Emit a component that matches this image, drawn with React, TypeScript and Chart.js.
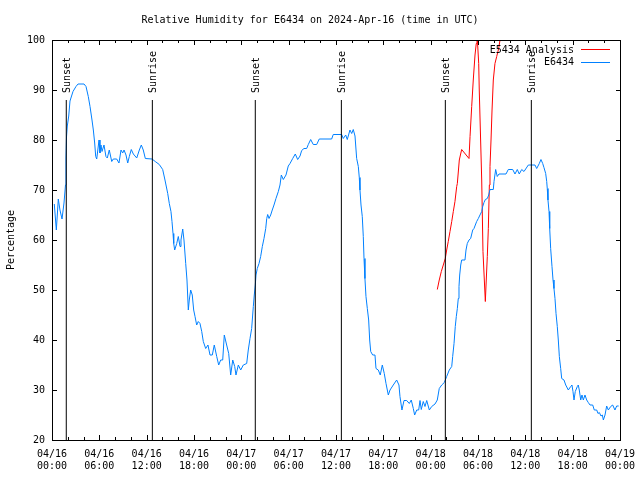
import React, { useEffect, useRef } from "react";
import { Chart, registerables } from "chart.js";

Chart.register(...registerables);

// Hours since 2024-04-16 00:00 UTC
const blueHours = [
  0.29, 0.55, 0.8, 1.01, 1.27, 1.52, 1.71, 1.77, 1.84, 1.94, 2.12, 2.28, 2.66, 3.04, 3.3, 4.06, 4.31, 4.6, 4.82, 5.07,
  5.24, 5.41, 5.54, 5.67, 5.96, 6.08, 6.21, 6.34, 6.59, 6.84, 7.01, 7.26, 7.57, 7.77, 8.2, 8.49, 8.75, 8.96, 9.13, 9.38,
  9.6, 9.8, 10.05, 10.31, 10.74, 11.07, 11.32, 11.57, 11.83, 12.68, 13.09, 13.6, 14.03, 14.32, 14.67, 14.87, 15.08, 15.21, 15.34, 15.43,
  15.55, 15.81, 16.01, 16.23, 16.35, 16.57, 16.73, 16.95, 17.11, 17.28, 17.4, 17.58, 17.78, 17.96, 18.13, 18.34, 18.54, 18.76, 18.98, 19.18,
  19.48, 19.77, 20.03, 20.32, 20.57, 20.88, 21.13, 21.38, 21.64, 21.84, 22.14, 22.4, 22.65, 22.91, 23.16, 23.32, 23.62, 23.92, 24.25, 24.68,
  24.88, 25.1, 25.31, 25.52, 25.64, 25.77, 25.86, 26.02, 26.24, 26.45, 26.66, 26.87, 27.09, 27.22, 27.34, 27.51, 27.72, 27.92, 28.14, 28.39,
  28.69, 28.9, 29.07, 29.32, 29.66, 29.95, 30.17, 30.51, 30.84, 31.14, 31.44, 31.65, 31.94, 32.28, 32.49, 32.79, 33.12, 33.55, 33.88, 35.45,
  35.65, 36.72, 36.92, 37.23, 37.43, 37.77, 37.99, 38.19, 38.41, 38.62, 38.83, 38.95, 39.04, 39.17, 39.33, 39.46, 39.55, 39.67, 39.8, 39.97,
  40.14, 40.27, 40.4, 40.65, 40.94, 41.07, 41.36, 41.61, 41.87, 42.12, 42.34, 42.63, 42.85, 43.26, 43.69, 43.98, 44.11, 44.36, 44.62, 44.96,
  45.29, 45.54, 45.8, 45.97, 46.23, 46.48, 46.65, 46.81, 47.06, 47.28, 47.5, 47.83, 48.13, 48.55, 48.84, 49.09, 49.4, 49.73, 50.03, 50.36,
  50.67, 50.79, 50.96, 51.12, 51.25, 51.38, 51.5, 51.59, 51.68, 51.81, 51.93, 52.35, 52.48, 52.64, 52.86, 53.07, 53.33, 53.49, 53.66, 53.83,
  54.04, 54.25, 54.47, 54.6, 54.76, 54.93, 55.18, 55.36, 55.52, 55.94, 56.03, 56.24, 56.44, 56.66, 57.55, 57.84, 58.4, 58.69, 58.98, 59.23,
  59.54, 59.83, 60.38, 61.22, 61.44, 61.77, 61.98, 62.2, 62.36, 62.58, 62.71, 62.78, 62.87, 63.0, 63.09, 63.21, 63.38, 63.51, 63.63, 63.76,
  63.89, 64.05, 64.18, 64.31, 64.48, 64.61, 64.9, 65.12, 65.45, 65.75, 65.91, 66.04, 66.17, 66.33, 66.59, 66.71, 66.84, 67.02, 67.18, 67.35,
  67.56, 67.78, 67.98, 68.2, 68.54, 68.74, 69.05, 69.21, 69.38, 69.59, 69.76, 69.89, 70.1, 70.31, 70.52, 70.82, 71.07, 71.36, 71.58, 71.83,
];

const blueValues = [
  67.2, 62, 68.2, 66, 64.2, 67.4, 71, 76.4, 80.6, 82.8, 84.8, 87.8, 89.7, 90.7, 91.2, 91.2, 90.7, 88.7, 86.7, 84,
  82, 79.4, 76.7, 76.2, 80, 77.4, 79, 77.7, 79, 76.7, 76.4, 78, 75.7, 76.2, 76.2, 75.4, 78, 77.4, 78, 77,
  75.4, 76.7, 78.1, 77.2, 76.4, 78, 79, 78, 76.3, 76.2, 75.7, 75.1, 74.1, 72, 69.3, 67.3, 65.7, 63.7, 61.3, 59.3,
  58, 59.3, 60.7, 58.7, 60, 62.2, 60, 55.3, 52, 46, 48, 50, 49, 46, 44.7, 43, 43.7, 43.3, 41.7, 39.7,
  38.3, 39, 37, 37, 39, 36.7, 35, 36, 36, 41, 39, 37.3, 33, 36, 34.7, 33, 35, 34, 35, 35.3,
  38, 40.3, 42.3, 46.7, 49, 51, 53, 54.3, 55.3, 56.7, 58.7, 60.3, 62.3, 64.3, 65.1, 64.3, 65, 66, 67, 68.3,
  69.7, 71, 73, 72.1, 73, 74.8, 75.3, 76.3, 77.2, 76.1, 76.8, 77.9, 78.3, 78.3, 79.1, 80.1, 79.1, 79.1, 80.2, 80.2,
  81.1, 81.1, 80.3, 81, 80.1, 82, 81.3, 82.1, 80.8, 76.3, 74.7, 72.5, 70, 67, 64.7, 60.7, 56.3, 52.3, 48.7, 46.3,
  44, 40, 37.7, 37, 37, 34.3, 34, 33, 35, 33.3, 31.3, 29, 30, 31, 32, 31, 28.7, 26, 27.9, 27.9,
  27.3, 28, 26.3, 25, 26, 26, 27.9, 26.1, 27.7, 26.7, 27.9, 26, 26.7, 27.2, 28, 30.3, 31, 31.5, 32.7, 34,
  34.7, 36.7, 39.3, 42.7, 44.7, 46.3, 48.3, 50.7, 53, 55, 56, 56, 58, 59.3, 60, 60.3, 62, 62.3, 63, 63.7,
  64.3, 65, 65.7, 66.7, 67.5, 68.1, 68.3, 69, 70.1, 70.1, 71.7, 74.1, 72.7, 73.2, 73.2, 74.1, 74.1, 73.2, 74.1, 73.2,
  74.1, 73.7, 75, 75, 74.3, 75.3, 76.1, 75.3, 74.5, 73.3, 71.7, 70.3, 68, 65.7, 62.3, 58.3, 54.7, 52, 50.3, 48.3,
  45.3, 42.7, 40, 36.7, 34.3, 32.3, 32, 31, 30, 30.7, 31, 29.7, 28, 29.7, 30.7, 31, 30, 28, 29, 28,
  29, 28, 27.5, 27, 27, 26, 26, 25.3, 25.5, 24.8, 25, 24, 25, 26.8, 26, 26.7, 27, 26, 26.8, 26.8,
];

const redHours = [
  48.84, 49.09, 49.35, 49.6, 49.85, 50.03, 50.23, 50.45, 50.67, 50.87, 51.08, 51.3, 51.38, 51.63, 51.93, 52.86, 52.99, 53.2, 53.4, 53.62,
  53.78, 53.87, 54.09, 54.16, 54.47, 54.63, 54.93, 55.02, 55.18, 55.31, 55.44, 55.52, 55.65, 55.78, 55.94, 56.15, 56.37, 56.62, 56.79, 57.04,
];
const redValues = [
  50.1, 52, 53.7, 55, 56.3, 58, 59.7, 61.7, 63.7, 65.7, 67.7, 70.7, 71.3, 76, 78.1, 76.3, 80.7, 86.7, 92, 97,
  99.3, 101.5, 95.3, 90, 72, 57.7, 47.7, 51, 56.7, 62.3, 71, 74.7, 80, 86, 92, 95.3, 96.7, 98.3, 100, 102,
];

const markerHours = [1.81, 12.72, 25.77, 36.68, 49.86, 60.76];
const markerLabels = ["Sunset", "Sunrise", "Sunset", "Sunrise", "Sunset", "Sunrise"];
const markerTop = 88;

const xTickLabels = [
  ["04/16", "00:00"], ["04/16", "06:00"], ["04/16", "12:00"], ["04/16", "18:00"],
  ["04/17", "00:00"], ["04/17", "06:00"], ["04/17", "12:00"], ["04/17", "18:00"],
  ["04/18", "00:00"], ["04/18", "06:00"], ["04/18", "12:00"], ["04/18", "18:00"],
  ["04/19", "00:00"],
];

const titleText = "Relative Humidity for E6434 on 2024-Apr-16 (time in UTC)";
const seriesNames = ["E5434 Analysis", "E6434"];
const seriesColors = ["#ff0000", "#0080ff"];

const FONT = "'DejaVu Sans Mono', monospace";

const gnuplotPlugin = {
  id: "gnuplotDecor",
  afterDatasetsDraw(chart: any) {
    const ctx = chart.ctx;
    const { left, right, top, bottom } = chart.chartArea;
    const xs = chart.scales.x;
    const ys = chart.scales.y;
    ctx.save();
    // marker labels
    ctx.fillStyle = "#000";
    ctx.font = `10px ${FONT}`;
    markerHours.forEach((h, i) => {
      const px = xs.getPixelForValue(h);
      const py = ys.getPixelForValue(markerTop) - 7;
      ctx.save();
      ctx.translate(px + 1.5, py);
      ctx.rotate(-Math.PI / 2);
      ctx.textAlign = "left";
      ctx.textBaseline = "middle";
      ctx.fillText(markerLabels[i], 0, 0);
      ctx.restore();
    });
    // border
    ctx.strokeStyle = "#000";
    ctx.lineWidth = 1;
    ctx.strokeRect(left + 0.5, top + 0.5, right - left, bottom - top);
    // ticks (inward, mirrored)
    ctx.beginPath();
    for (let h = 0; h <= 72; h += 2) {
      const px = Math.round(xs.getPixelForValue(h)) + 0.5;
      const len = h % 6 === 0 ? 5 : 3;
      ctx.moveTo(px, bottom);
      ctx.lineTo(px, bottom - len);
      ctx.moveTo(px, top);
      ctx.lineTo(px, top + len);
    }
    for (let v = 20; v <= 100; v += 10) {
      const py = Math.round(ys.getPixelForValue(v)) + 0.5;
      ctx.moveTo(left, py);
      ctx.lineTo(left + 5, py);
      ctx.moveTo(right + 1, py);
      ctx.lineTo(right - 4, py);
    }
    ctx.stroke();
    // legend
    ctx.font = `10px ${FONT}`;
    ctx.textAlign = "right";
    ctx.textBaseline = "middle";
    const legendY = [50, 62.5];
    seriesNames.forEach((name, i) => {
      ctx.fillStyle = "#000";
      ctx.fillText(name, 574, legendY[i]);
      ctx.strokeStyle = seriesColors[i];
      ctx.beginPath();
      ctx.moveTo(581, Math.round(legendY[i]) - 0.5);
      ctx.lineTo(610, Math.round(legendY[i]) - 0.5);
      ctx.stroke();
    });
    ctx.restore();
  },
};

export default function App() {
  const canvasRef = useRef<HTMLCanvasElement | null>(null);

  useEffect(() => {
    const canvas = canvasRef.current;
    if (!canvas) return;
    const blueData = blueHours.map((h, i) => ({ x: h, y: blueValues[i] }));
    const redData = redHours.map((h, i) => ({ x: h, y: redValues[i] }));
    const markerSets = markerHours.map((h) => ({
      data: [
        { x: h, y: 20 },
        { x: h, y: markerTop },
      ],
      borderColor: "#000000",
      borderWidth: 1,
      pointRadius: 0,
      order: 0,
    }));
    const chart = new Chart(canvas, {
      type: "line",
      data: {
        datasets: [
          ...markerSets,
          {
            label: seriesNames[1],
            data: blueData,
            borderColor: seriesColors[1],
            borderWidth: 1,
            pointRadius: 0,
            tension: 0,
            order: 1,
          },
          {
            label: seriesNames[0],
            data: redData,
            borderColor: seriesColors[0],
            borderWidth: 1,
            pointRadius: 0,
            tension: 0,
            order: 2,
          },
        ],
      },
      options: {
        responsive: false,
        animation: false,
        devicePixelRatio: 1,
        layout: { padding: { left: 0, right: 20, top: 0, bottom: 0 } },
        plugins: {
          legend: { display: false },
          tooltip: { enabled: false },
          title: {
            display: true,
            text: titleText,
            color: "#000",
            font: { family: FONT, size: 10, weight: "normal", lineHeight: 1.2 },
            padding: { top: 14, bottom: 14 },
          },
        },
        scales: {
          x: {
            type: "linear",
            min: 0,
            max: 72,
            grid: { display: false, drawTicks: false, tickLength: 0 },
            border: { display: false },
            afterBuildTicks: (scale: any) => {
              scale.ticks = xTickLabels.map((_, i) => ({ value: i * 6 }));
            },
            afterFit: (scale: any) => {
              scale.height = 40;
              scale.paddingLeft = 0;
              scale.paddingRight = 0;
            },
            ticks: {
              autoSkip: false,
              maxRotation: 0,
              minRotation: 0,
              padding: 8,
              color: "#000",
              font: { family: FONT, size: 10, lineHeight: 1.25 },
              callback: (value: any) => xTickLabels[Math.round(Number(value) / 6)],
            },
          },
          y: {
            type: "linear",
            min: 20,
            max: 100,
            grid: { display: false, drawTicks: false, tickLength: 0 },
            border: { display: false },
            afterFit: (scale: any) => {
              scale.width = 52;
              scale.paddingTop = 0;
              scale.paddingBottom = 0;
            },
            ticks: {
              stepSize: 10,
              padding: 7,
              color: "#000",
              font: { family: FONT, size: 10 },
            },
            title: {
              display: true,
              text: "Percentage",
              color: "#000",
              font: { family: FONT, size: 10, lineHeight: 1.2 },
              padding: { top: 5, bottom: 0 },
            },
          },
        },
      },
      plugins: [gnuplotPlugin],
    } as any);
    return () => chart.destroy();
  }, []);

  return (
    <div style={{ position: "fixed", left: 0, top: 0, width: 640, height: 480, background: "#fff" }}>
      <canvas ref={canvasRef} width={640} height={480} style={{ width: 640, height: 480 }} />
    </div>
  );
}
